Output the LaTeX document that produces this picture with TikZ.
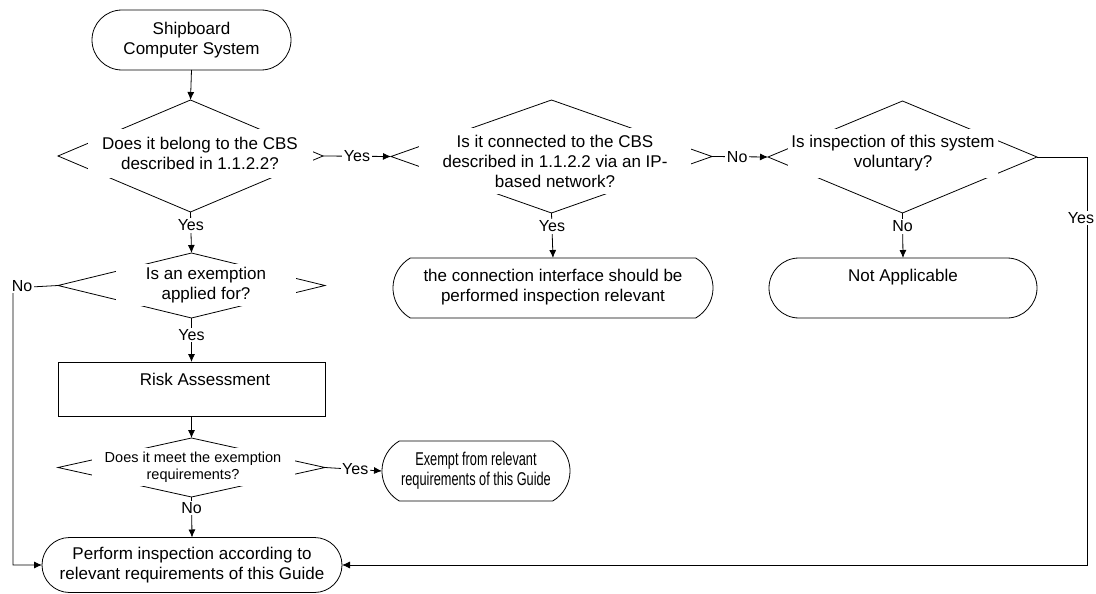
\documentclass[tikz,border=0pt]{standalone}
\usepackage{fontspec}
\usepackage{graphicx}
\setmainfont{Liberation Sans}
\usetikzlibrary{shapes.geometric,shapes.misc,arrows.meta}
\newcommand{\narrowline}[1]{\scalebox{0.69}[1]{#1}}
\begin{document}
\begin{tikzpicture}[x=1pt,y=-1pt,
  every node/.style={font=\fontsize{17}{20}\selectfont},
  dia/.style={draw, diamond, inner sep=0pt, outer sep=0pt, line width=0.8pt},
  dtext/.style={fill=white, inner sep=1pt, align=center},
  term/.style={draw, rounded rectangle, inner sep=0pt, outer sep=0pt, line width=0.8pt, align=center},
  proc/.style={draw, rectangle, inner sep=0pt, outer sep=0pt, line width=0.8pt},
  txt/.style={align=center, inner sep=0pt},
  lbl/.style={fill=white, inner sep=1.5pt, font=\fontsize{16}{18}\selectfont},
  arr/.style={line width=0.8pt, -{Latex[length=8pt,width=7pt]}}
]
\useasboundingbox (0,0) rectangle (1096,594);

% terminals and processes
\node[term, minimum width=199pt, minimum height=60pt] (start) at (191.5,40) {Shipboard\\Computer System};
\node[term, rounded rectangle arc length=120, minimum width=320pt, minimum height=60pt] (t2) at (553,288) {};
\node[txt] (t2t) at (553,287) {the connection interface should be\\performed inspection relevant};
\node[term, minimum width=268pt, minimum height=60pt] (na) at (903,288) {};
\node[txt] (nat) at (903,277) {Not Applicable};
\node[proc, minimum width=267pt, minimum height=54pt] (risk) at (191.5,389) {};
\node[txt] (riskt) at (205,379) {Risk Assessment};
\node[term, rounded rectangle arc length=120, minimum width=188pt, minimum height=60pt, font=\fontsize{18.5}{20}\selectfont] (exempt) at (476,471) {\narrowline{Exempt from relevant}\\\narrowline{requirements of this Guide}};
\node[term, minimum width=300pt, minimum height=55pt] (perform) at (192,565) {Perform inspection according to\\relevant requirements of this Guide};

% decisions
\node[dia, minimum width=265pt, minimum height=112pt] (d1) at (190.5,156) {};
\node[dtext, minimum width=225pt, minimum height=49pt] (d1t) at (200,153) {Does it belong to the CBS\\described in 1.1.2.2?};
\node[dia, minimum width=321pt, minimum height=113pt] (d2) at (551.5,156.5) {};
\node[dtext, minimum width=272pt, minimum height=66pt] (d2t) at (555,161) {Is it connected to the CBS\\described in 1.1.2.2 via an IP-\\based network?};
\node[dia, minimum width=269pt, minimum height=112pt] (d3) at (902.5,157) {};
\node[dtext, minimum width=210pt, minimum height=49pt] (d3t) at (893,153) {Is inspection of this system\\voluntary?};
\node[dia, minimum width=267pt, minimum height=65pt] (d4) at (191.5,285.5) {};
\node[dtext, minimum width=180pt, minimum height=42pt] (d4t) at (206,285) {Is an exemption\\applied for?};
\node[dia, minimum width=267pt, minimum height=59pt] (d5) at (191.5,467.5) {};
\node[dtext, minimum width=203pt, minimum height=38pt, font=\fontsize{14.5}{17}\selectfont] (d5t) at (193,467) {Does it meet the exemption\\requirements?};

% connectors
\coordinate (c3) at (1087,157);
\coordinate (c4) at (13,288);
\draw[arr] (start.south) -- (d1.north);
\draw[arr] (d1.east) -- node[lbl]{Yes} (d2.west);
\draw[arr] (d2.east) -- node[lbl,pos=0.45]{No} (d3.west);
\draw[arr] (d1.south) -- node[lbl,pos=0.33]{Yes} (d4.north);
\draw[arr] (d2.south) -- node[lbl,pos=0.3]{Yes} (t2.north);
\draw[arr] (d3.south) -- node[lbl,pos=0.3]{No} (na.north);
\draw[arr] (d3.east) -- (c3) -- node[lbl,pos=0.15,xshift=-6pt]{Yes} (c3 |- perform.east) -- (perform.east);
\draw[arr] (d4.west) -- (c4) node[lbl,xshift=9pt,yshift=2pt]{No} -- (c4 |- perform.west) -- (perform.west);
\draw[arr] (d4.south) -- node[lbl,pos=0.39]{Yes} (risk.north);
\draw[arr] (risk.south) -- (d5.north);
\draw[arr] (d5.east) -- node[lbl,pos=0.53]{Yes} (exempt.west);
\draw[arr] (d5.south) -- node[lbl,pos=0.27]{No} (perform.north);
\end{tikzpicture}
\end{document}
